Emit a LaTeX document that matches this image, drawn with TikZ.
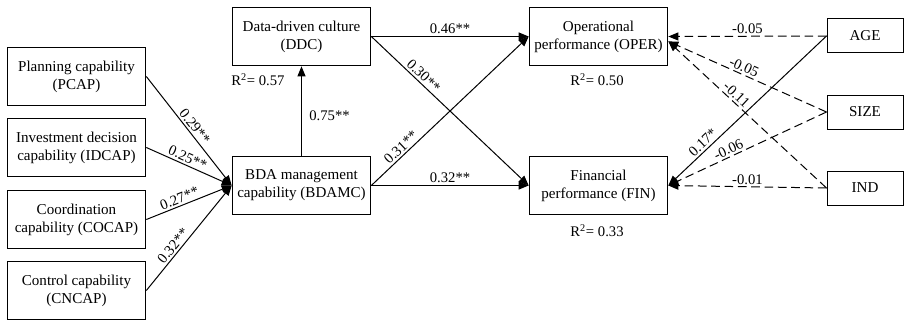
\documentclass[tikz,border=0pt]{standalone}
\usepackage{fontspec}
\setmainfont{Liberation Serif}
\usetikzlibrary{arrows.meta}

\begin{document}
\begin{tikzpicture}[x=0.75pt, y=-0.75pt,
    box/.style={draw, line width=0.75pt, minimum width=104pt, minimum height=44pt,
        align=center, inner sep=1pt, font=\fontsize{11.3}{13.5}\selectfont},
    ctrl/.style={draw, line width=0.75pt, minimum width=57pt, minimum height=25.5pt,
        inner sep=1pt, font=\fontsize{11.3}{13.5}\selectfont},
    link/.style={line width=0.75pt, -{Triangle[length=7.5pt,width=6pt]}},
    dlink/.style={link, dash pattern=on 6.5pt off 3.5pt},
    coef/.style={inner sep=1.5pt, font=\fontsize{11}{13}\selectfont}]
    \useasboundingbox (0,0) rectangle (905,321);

    % 四个维度
    \node[box] (PCAP)  at (76.5,76.5)  {Planning capability\\(PCAP)};
    \node[box] (IDCAP) at (76.5,147.5) {Investment decision\\capability (IDCAP)};
    \node[box] (COCAP) at (76.5,219.5) {Coordination\\capability (COCAP)};
    \node[box, minimum height=43.5pt] (CNCAP) at (76.5,290.5) {Control capability\\(CNCAP)};

    % 中介与结果
    \node[box] (DDC)   at (301.5,36.5)  {Data-driven culture\\(DDC)};
    \node[box] (BDAMC) at (301.5,185.5) {BDA management\\capability (BDAMC)};
    \node[box] (OPER)  at (598.5,36.5)  {Operational\\performance (OPER)};
    \node[box] (FIN)   at (598.5,185.5) {Financial\\performance (FIN)};

    \node[coef, anchor=west] (r2ddc) at (229,80) {R\textsuperscript{2}= 0.57};
    \node[coef] (r2oper) at (597,80)  {R\textsuperscript{2}= 0.50};
    \node[coef] (r2fin)  at (597,231) {R\textsuperscript{2}= 0.33};

    % 控制变量
    \node[ctrl] (AGE)  at (865,36)  {AGE};
    \node[ctrl] (SIZE) at (865,112) {SIZE};
    \node[ctrl] (IND)  at (865,188) {IND};

    % 路径
    \draw[link] (PCAP.east)  -- node[coef, sloped, above, pos=0.5]  {0.29**} (BDAMC.west);
    \draw[link] (IDCAP.east) -- node[coef, sloped, above, pos=0.45] {0.25**} (BDAMC.west);
    \draw[link] (COCAP.east) -- node[coef, sloped, above, pos=0.42] {0.27**} (BDAMC.west);
    \draw[link] (CNCAP.east) -- node[coef, sloped, above, pos=0.38] {0.32**} (BDAMC.west);

    \draw[link] (BDAMC.north) -- node[coef, right, pos=0.45, xshift=4pt] {0.75**} (DDC.south);
    \draw[link] (DDC.east) -- node[coef, above] {0.46**} (OPER.west);
    \draw[link] (DDC.east) -- node[coef, sloped, above, pos=0.3] {0.30**} (FIN.west);
    \draw[link] (BDAMC.east) -- node[coef, sloped, above, pos=0.22] {0.31**} (OPER.west);
    \draw[link] (BDAMC.east) -- node[coef, above] {0.32**} (FIN.west);

    % 控制路径
    \draw[dlink] (AGE.west)  -- node[coef, above] {-0.05} (OPER.east);
    \draw[dlink] (SIZE.west) -- node[coef, sloped, above, pos=0.54] {-0.05} (OPER.-4);
    \draw[dlink] (IND.west)  -- node[coef, sloped, above, pos=0.6]  {-0.11} (OPER.-4);
    \draw[link]  (AGE.west)  -- node[coef, sloped, above, pos=0.75] {0.17*} (FIN.east);
    \draw[dlink] (SIZE.west) -- node[coef, sloped, above, pos=0.6]  {-0.06} (FIN.east);
    \draw[dlink] (IND.west)  -- node[coef, above] {-0.01} (FIN.east);
\end{tikzpicture}
\end{document}
